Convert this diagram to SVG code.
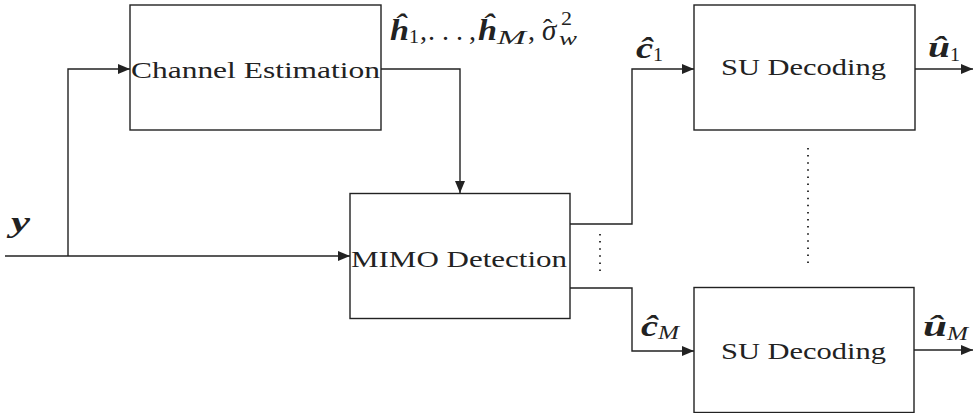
<svg xmlns="http://www.w3.org/2000/svg" width="974" height="413" viewBox="0 0 974 413">
<style>
.box{fill:#fff;stroke:#222;stroke-width:1.4}
.lbl{font-family:"Liberation Serif",serif;font-size:24px;fill:#222}
.v{font-family:"Liberation Serif",serif;font-size:29px;font-weight:bold;font-style:italic;fill:#222}
.it{font-family:"Liberation Serif",serif;font-size:29px;font-style:italic;fill:#222}
.r{font-family:"Liberation Serif",serif;font-size:28px;fill:#222}
.h{font-style:normal;font-size:28px}
.s{font-family:"Liberation Serif",serif;font-size:19px;fill:#222}
.si{font-family:"Liberation Serif",serif;font-size:19px;font-style:italic;fill:#222}
.c{fill:none;stroke:#222;stroke-width:1.4}
.dots{fill:none;stroke:#222;stroke-width:1.8;stroke-dasharray:1.5 5.6}
</style>
<defs>
<marker id="arr" viewBox="0 0 12 10" refX="12" refY="5" markerWidth="12" markerHeight="10" orient="auto" markerUnits="userSpaceOnUse">
<path d="M0,0 L12,5 L0,10 z" fill="#222"/>
</marker>
</defs>
<g id="connectors">
<path class="c" d="M5,256 H350" marker-end="url(#arr)"/>
<path class="c" d="M68,256 V69 H130" marker-end="url(#arr)"/>
<path class="c" d="M381,69 H460 V193" marker-end="url(#arr)"/>
<path class="c" d="M570,224 H632 V69 H694" marker-end="url(#arr)"/>
<path class="c" d="M570,288 H632 V351 H694" marker-end="url(#arr)"/>
<path class="c" d="M915,69 H973" marker-end="url(#arr)"/>
<path class="c" d="M914,350 H973" marker-end="url(#arr)"/>
<path class="dots" d="M600,234 V272"/>
<path class="dots" d="M808,148 V266"/>
</g>
<g id="channel-estimation">
<rect class="box" x="130" y="5" width="251" height="125"/>
<text class="lbl" x="131" y="78" textLength="249" lengthAdjust="spacingAndGlyphs">Channel Estimation</text>
</g>
<g id="mimo-detection">
<rect class="box" x="350" y="193.5" width="220" height="125"/>
<text class="lbl" x="351" y="266.5" textLength="216" lengthAdjust="spacingAndGlyphs">MIMO Detection</text>
</g>
<g id="su-decoding-1">
<rect class="box" x="694" y="5" width="221" height="125"/>
<text class="lbl" x="721" y="75" textLength="165" lengthAdjust="spacingAndGlyphs">SU Decoding</text>
</g>
<g id="su-decoding-M">
<rect class="box" x="694" y="287.5" width="220" height="125"/>
<text class="lbl" x="721" y="359" textLength="165" lengthAdjust="spacingAndGlyphs">SU Decoding</text>
</g>
<g id="labels">
<text class="v" x="11" y="232" textLength="19" lengthAdjust="spacingAndGlyphs">y</text>
<text class="v" x="390" y="40" textLength="19" lengthAdjust="spacingAndGlyphs">ĥ</text>
<text class="s" x="409" y="43" textLength="10" lengthAdjust="spacingAndGlyphs">1</text>
<text class="r" x="420" y="40">,</text>
<text class="r" x="428" y="40" textLength="35">...</text>
<text class="r" x="469" y="40">,</text>
<text class="v" x="478" y="40" textLength="19" lengthAdjust="spacingAndGlyphs">ĥ</text>
<text class="si" x="497" y="44" textLength="29" lengthAdjust="spacingAndGlyphs">M</text>
<text class="r" x="528" y="40">,</text>
<text class="it" x="542" y="40">σ<tspan class="h" x="543" y="38">ˆ</tspan></text>
<text class="s" x="561" y="25" textLength="11" lengthAdjust="spacingAndGlyphs">2</text>
<text class="si" x="559" y="45" textLength="18" lengthAdjust="spacingAndGlyphs">w</text>
<text class="v" x="636" y="58" textLength="17" lengthAdjust="spacingAndGlyphs">ĉ</text>
<text class="s" x="653" y="61" textLength="10" lengthAdjust="spacingAndGlyphs">1</text>
<text class="v" x="641" y="336" textLength="17" lengthAdjust="spacingAndGlyphs">ĉ</text>
<text class="si" x="658" y="339" textLength="21" lengthAdjust="spacingAndGlyphs">M</text>
<text class="v" x="928" y="57" textLength="22" lengthAdjust="spacingAndGlyphs">û</text>
<text class="s" x="950" y="61" textLength="10" lengthAdjust="spacingAndGlyphs">1</text>
<text class="v" x="923" y="336" textLength="24" lengthAdjust="spacingAndGlyphs">û</text>
<text class="si" x="947" y="340" textLength="21" lengthAdjust="spacingAndGlyphs">M</text>
</g>
</svg>
